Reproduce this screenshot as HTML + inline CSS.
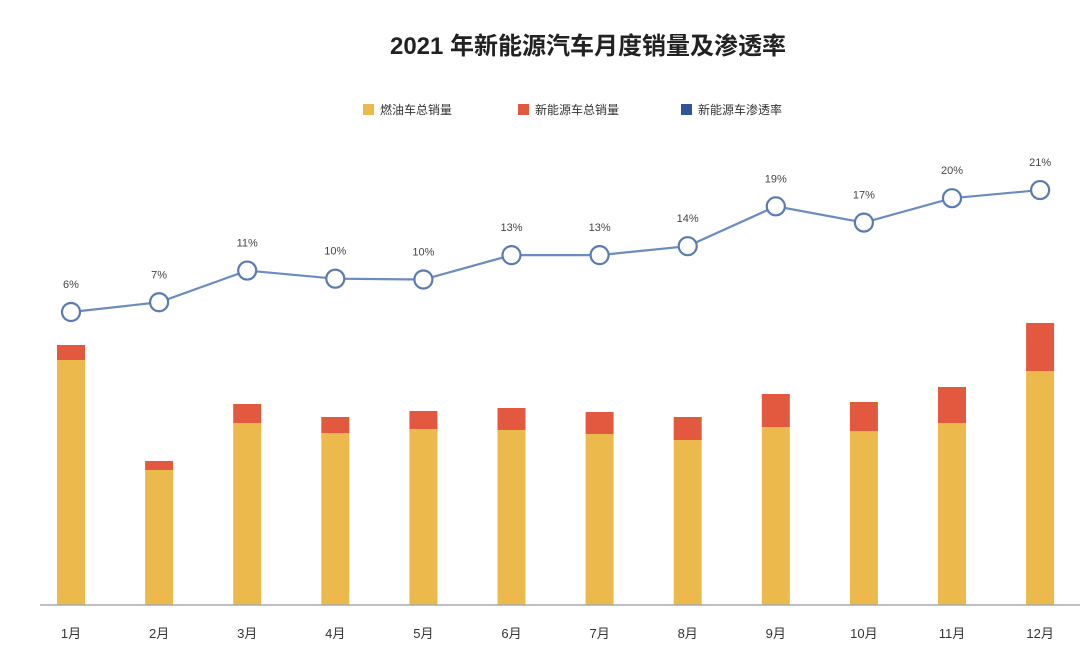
<!DOCTYPE html>
<html><head><meta charset="utf-8"><style>
body{margin:0;background:#fff;width:1080px;height:653px;overflow:hidden;font-family:"Liberation Sans","Noto Sans CJK SC",sans-serif}
</style></head><body>
<svg width="1080" height="653" font-family="Liberation Sans, Noto Sans CJK SC, sans-serif">
<text x="588" y="54" text-anchor="middle" font-size="24" font-weight="bold" fill="#222">2021 年新能源汽车月度销量及渗透率</text>
<g>
<rect x="363" y="104" width="11" height="11" fill="#ecb94c"/>
<text x="380" y="114" font-size="12" fill="#333">燃油车总销量</text>
<rect x="518" y="104" width="11" height="11" fill="#e2593f"/>
<text x="535" y="114" font-size="12" fill="#333">新能源车总销量</text>
<rect x="681" y="104" width="11" height="11" fill="#2f5597"/>
<text x="698" y="114" font-size="12" fill="#333">新能源车渗透率</text>
</g>
<g id="bars"></g>
<line x1="40" y1="605" x2="1080" y2="605" stroke="#aaa" stroke-width="1.5"/>
<g id="xlabels"></g>
<g id="line"></g>
</svg>
<script>
const categories=["1月","2月","3月","4月","5月","6月","7月","8月","9月","10月","11月","12月"];
const fuelSales=[245,135,182,172,176,175,171,165,178,174,182,234];
const nevSales=[15,9,19,16,18,22,22,23,33,29,36,48];
const rates=[6.0,7.2,11.1,10.1,10.0,13.0,13.0,14.1,19.0,17.0,20.0,21.0];
const NS="http://www.w3.org/2000/svg";
const xC=i=>71+i*88.1;
const yV=v=>605-v;
const yR=r=>360.8-8.13*r;
function mk(t,a,p){const e=document.createElementNS(NS,t);for(const k in a)e.setAttribute(k,a[k]);p.appendChild(e);return e;}
const bars=document.getElementById('bars'),xl=document.getElementById('xlabels'),ln=document.getElementById('line');
categories.forEach((c,i)=>{
 const x=xC(i)-14;
 const f=mk('rect',{x:x,y:yV(fuelSales[i]),width:28,height:fuelSales[i],fill:'#ecb94c'},bars);
 
 
 const n=mk('rect',{x:x,y:yV(fuelSales[i]+nevSales[i]),width:28,height:nevSales[i],fill:'#e2593f'},bars);
 
 
 const t=mk('text',{x:xC(i),y:638,'text-anchor':'middle','font-size':13,fill:'#333'},xl);
 t.textContent=c;
 
 
});
const pts=rates.map((r,i)=>xC(i)+','+yR(r)).join(' ');
const pl=mk('polyline',{points:pts,fill:'none',stroke:'#6b8cc0','stroke-width':2.2},ln);


rates.forEach((r,i)=>{
 const c=mk('circle',{cx:xC(i),cy:yR(r),r:9,fill:'#fff',stroke:'#5b7bb0','stroke-width':2.2},ln);
 
 
 const t=mk('text',{x:xC(i),y:yR(r)-24,'text-anchor':'middle','font-size':11,fill:'#444'},ln);
 t.textContent=Math.round(r)+'%';
 
 
});
</script>
</body></html>
